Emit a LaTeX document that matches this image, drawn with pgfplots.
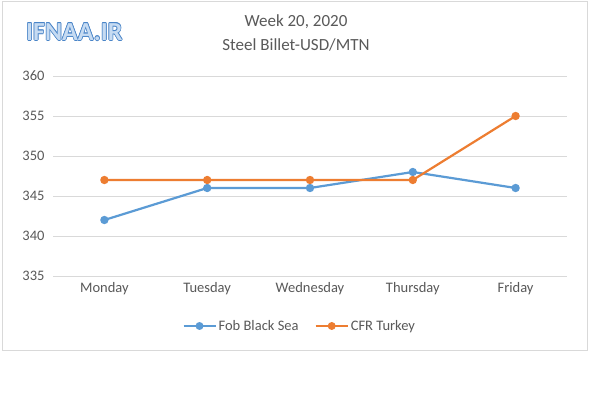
\documentclass[border=0pt]{standalone}
\usepackage{pgfplots}
\pgfplotsset{compat=1.18}
\usepackage{fontspec}
\setmainfont{Carlito}
\definecolor{cblue}{HTML}{5B9BD5}
\definecolor{corange}{HTML}{ED7D31}
\definecolor{tgray}{HTML}{595959}
\definecolor{gridc}{HTML}{D9D9D9}
\definecolor{logob}{HTML}{4A85C8}
\definecolor{logof}{HTML}{C6DBF2}
\begin{document}
\begin{tikzpicture}[x=1pt,y=1pt]
\useasboundingbox[fill=white] (0,0) rectangle (600,395);
\draw[color=gridc,line width=0.8pt] (2,45) rectangle (587,394);
% logo
\foreach \dx/\dy in {0.7/0,-0.7/0,0/0.7,0/-0.7,0.5/0.5,-0.5/0.5,0.5/-0.5,-0.5/-0.5}{
  \node[anchor=west,inner sep=0pt,font=\fontsize{26}{26}\selectfont\bfseries,text=logob] at (26+\dx,363+\dy) {IFNAA.IR};
}
\node[anchor=west,inner sep=0pt,font=\fontsize{26}{26}\selectfont\bfseries,text=logof] at (26,363) {IFNAA.IR};
% title
\node[text=tgray,font=\fontsize{17}{17}\selectfont] at (296,373) {Week 20, 2020};
\node[text=tgray,font=\fontsize{17}{17}\selectfont] at (296,350) {Steel Billet-USD/MTN};
\begin{axis}[
  at={(53pt,119pt)}, anchor=south west,
  scale only axis, width=514pt, height=200pt,
  xmin=-0.5, xmax=4.5, ymin=335, ymax=360,
  xtick=data, xticklabels={Monday,Tuesday,Wednesday,Thursday,Friday},
  ytick={335,340,...,360},
  ymajorgrids, grid style={color=gridc,line width=0.8pt},
  axis line style={draw=none},
  major tick length=0pt,
  tick label style={text=tgray,font=\fontsize{14.5}{14.5}\selectfont},
  /pgf/number format/assume math mode=true,
  yticklabel style={xshift=-5pt},
  xticklabel style={yshift=-3pt},
  legend columns=2,
  legend style={draw=none,at={(0.48,-0.25)},anchor=center,font=\fontsize{14.5}{14.5}\selectfont,text=tgray,
    /tikz/every even column/.append style={column sep=14pt}},
  legend image code/.code={\draw[#1] (0pt,0pt) -- (32pt,0pt); \fill[#1] (16pt,0pt) circle (2.8pt);},
]
\addplot[color=cblue,line width=2.2pt,mark=*,mark size=3pt,mark options={solid}] coordinates {(0,342) (1,346) (2,346) (3,348) (4,346)};
\addlegendentry{Fob Black Sea}
\addplot[color=corange,line width=2.2pt,mark=*,mark size=3pt] coordinates {(0,347) (1,347) (2,347) (3,347) (4,355)};
\addlegendentry{CFR Turkey}
\end{axis}
\end{tikzpicture}
\end{document}
